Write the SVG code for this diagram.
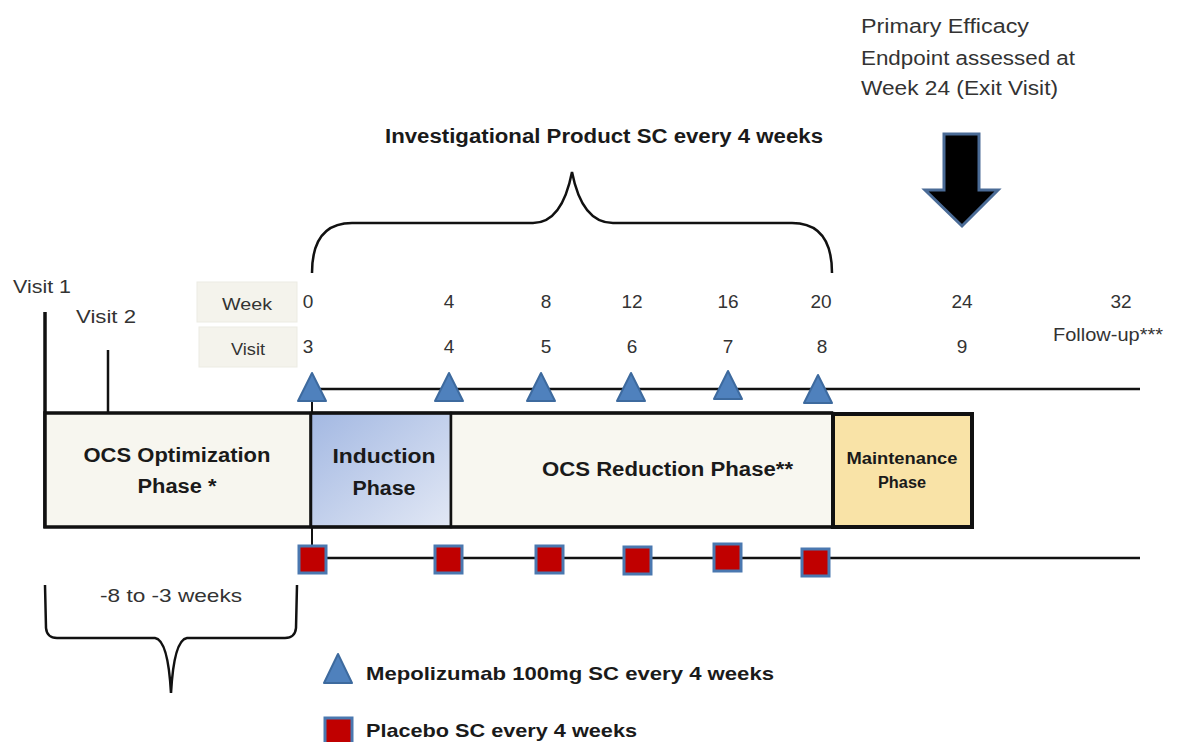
<svg xmlns="http://www.w3.org/2000/svg" width="1191" height="742" viewBox="0 0 1191 742">
<style>
.t{font-family:"Liberation Sans",Arial,sans-serif;fill:#333;}
.b{font-family:"Liberation Sans",Arial,sans-serif;font-weight:bold;fill:#1a1a1a;}
.num{font-family:"Liberation Sans",Arial,sans-serif;fill:#333;font-size:19px;text-anchor:middle;}
.ln{stroke:#111;fill:none;}
.tri{fill:#4f81bd;stroke:#3d6a9e;stroke-width:2;stroke-linejoin:round;}
.sq{fill:#c00000;stroke:#4a78b0;stroke-width:3;}
.lbl{fill:#f4f3ec;stroke:#ecebe3;stroke-width:1;}
</style>
<defs>
<linearGradient id="indG" x1="0" y1="0" x2="1" y2="1">
<stop offset="0" stop-color="#a3b8e2"/>
<stop offset="1" stop-color="#e2e8f5"/>
</linearGradient>
</defs>
<rect width="1191" height="742" fill="#fff"/>

<g id="endpoint-note">
<text class="t" x="861" y="33" font-size="20" textLength="168" lengthAdjust="spacingAndGlyphs">Primary Efficacy</text>
<text class="t" x="861" y="65" font-size="20" textLength="214" lengthAdjust="spacingAndGlyphs">Endpoint assessed at</text>
<text class="t" x="861" y="95" font-size="20" textLength="197" lengthAdjust="spacingAndGlyphs">Week 24 (Exit Visit)</text>
</g>
<g id="endpoint-arrow">
<polygon points="944,134 979,134 979,190 998,190 962,226 925,190 944,190" fill="#000" stroke="#4a6b96" stroke-width="3" stroke-linejoin="miter"/>
</g>

<g id="ip-label">
<text class="b" x="385" y="143" font-size="20" textLength="438" lengthAdjust="spacingAndGlyphs">Investigational Product  SC every 4 weeks</text>
</g>
<g id="ip-bracket">
<path class="ln" stroke-width="2.5" d="M312,273 Q312,223 352,223 L533,223 Q562,223 572,172 Q582,223 613,223 L792,223 Q832,223 832,273"/>
</g>

<g id="visit1">
<text class="t" x="13" y="293" font-size="18" textLength="58" lengthAdjust="spacingAndGlyphs">Visit 1</text>
</g>
<g id="visit2">
<text class="t" x="76" y="323" font-size="18" textLength="60" lengthAdjust="spacingAndGlyphs">Visit 2</text>
</g>

<g id="week-label">
<rect class="lbl" x="197" y="282" width="100" height="40"/>
<text class="t" x="222" y="310" font-size="16" textLength="50" lengthAdjust="spacingAndGlyphs">Week</text>
</g>
<g id="visit-label">
<rect class="lbl" x="199" y="327" width="98" height="40"/>
<text class="t" x="231" y="355" font-size="16" textLength="34" lengthAdjust="spacingAndGlyphs">Visit</text>
</g>

<g id="week-numbers">
<text class="num" x="308" y="308">0</text>
<text class="num" x="449" y="308">4</text>
<text class="num" x="546" y="308">8</text>
<text class="num" x="632" y="308">12</text>
<text class="num" x="728" y="308">16</text>
<text class="num" x="821" y="308">20</text>
<text class="num" x="962" y="308">24</text>
<text class="num" x="1121" y="308">32</text>
</g>
<g id="visit-numbers">
<text class="num" x="308" y="353">3</text>
<text class="num" x="449" y="353">4</text>
<text class="num" x="546" y="353">5</text>
<text class="num" x="632" y="353">6</text>
<text class="num" x="728" y="353">7</text>
<text class="num" x="822" y="353">8</text>
<text class="num" x="962" y="353">9</text>
<text class="t" x="1053" y="341" font-size="19" textLength="110" lengthAdjust="spacingAndGlyphs">Follow-up***</text>
</g>

<g id="connectors">
<line class="ln" x1="45" y1="312" x2="45" y2="528" stroke-width="3.5"/>
<line class="ln" x1="108" y1="350" x2="108" y2="413" stroke-width="2.5"/>
<line class="ln" x1="312" y1="389" x2="1140" y2="389" stroke-width="2.5"/>
<line class="ln" x1="312" y1="558" x2="1140" y2="558" stroke-width="2.5"/>
<line class="ln" x1="312" y1="389" x2="312" y2="546" stroke-width="2"/>
</g>

<g id="ocs-optimization">
<rect x="45" y="413" width="266" height="114" fill="#f7f6ef" stroke="#111" stroke-width="3.5"/>
<text class="b" x="177" y="462" font-size="20" text-anchor="middle" textLength="187" lengthAdjust="spacingAndGlyphs">OCS Optimization</text>
<text class="b" x="177" y="493" font-size="20" text-anchor="middle" textLength="79" lengthAdjust="spacingAndGlyphs">Phase *</text>
</g>
<g id="induction">
<rect x="311" y="413" width="140" height="114" fill="url(#indG)" stroke="#111" stroke-width="2.5"/>
<line x1="311" y1="413" x2="451" y2="413" stroke="#111" stroke-width="3.5"/>
<line x1="311" y1="527" x2="451" y2="527" stroke="#111" stroke-width="3.5"/>
<text class="b" x="384" y="463" font-size="20" text-anchor="middle" textLength="103" lengthAdjust="spacingAndGlyphs">Induction</text>
<text class="b" x="384" y="495" font-size="20" text-anchor="middle" textLength="63" lengthAdjust="spacingAndGlyphs">Phase</text>
</g>
<g id="ocs-reduction">
<rect x="451" y="413" width="382" height="114" fill="#f8f7f0" stroke="#111" stroke-width="2.5"/>
<line x1="451" y1="413" x2="833" y2="413" stroke="#111" stroke-width="3.5"/>
<line x1="451" y1="527" x2="833" y2="527" stroke="#111" stroke-width="3.5"/>
<text class="b" x="542" y="476" font-size="20" textLength="251" lengthAdjust="spacingAndGlyphs">OCS Reduction Phase**</text>
</g>
<g id="maintenance">
<rect x="833" y="414" width="139" height="113" fill="#f9e3a7" stroke="#111" stroke-width="4"/>
<text class="b" x="902" y="464" font-size="16" text-anchor="middle" textLength="111" lengthAdjust="spacingAndGlyphs">Maintenance</text>
<text class="b" x="902" y="488" font-size="16" text-anchor="middle" textLength="48" lengthAdjust="spacingAndGlyphs">Phase</text>
</g>

<g id="mepolizumab-doses">
<polygon class="tri" points="312,373 326,401 298,401"/>
<polygon class="tri" points="449,373 463,401 435,401"/>
<polygon class="tri" points="541,373 555,401 527,401"/>
<polygon class="tri" points="631,373 645,401 617,401"/>
<polygon class="tri" points="728,371 742,399 714,399"/>
<polygon class="tri" points="818,375 832,403 804,403"/>
</g>
<g id="placebo-doses">
<rect class="sq" x="299" y="546" width="27" height="27"/>
<rect class="sq" x="435" y="546" width="27" height="27"/>
<rect class="sq" x="536" y="546" width="27" height="27"/>
<rect class="sq" x="624" y="547" width="27" height="27"/>
<rect class="sq" x="714" y="544" width="27" height="27"/>
<rect class="sq" x="802" y="549" width="27" height="27"/>
</g>

<g id="runin-bracket">
<path class="ln" stroke-width="2.5" d="M45,585 L46,628 Q47,638 57,638 L155,638 Q168,640 171,693 Q174,640 187,638 L285,638 Q295,638 296,628 L297,585"/>
<text class="t" x="171" y="602" font-size="19" text-anchor="middle" fill="#444" textLength="142" lengthAdjust="spacingAndGlyphs">-8 to -3 weeks</text>
</g>

<g id="legend">
<polygon class="tri" points="338,654 352,683 324,683"/>
<text class="b" x="366" y="680" font-size="19" textLength="408" lengthAdjust="spacingAndGlyphs">Mepolizumab 100mg SC every 4 weeks</text>
<rect class="sq" x="325" y="718" width="27" height="30"/>
<text class="b" x="366" y="737" font-size="19" textLength="271" lengthAdjust="spacingAndGlyphs">Placebo SC every 4 weeks</text>
</g>
</svg>
